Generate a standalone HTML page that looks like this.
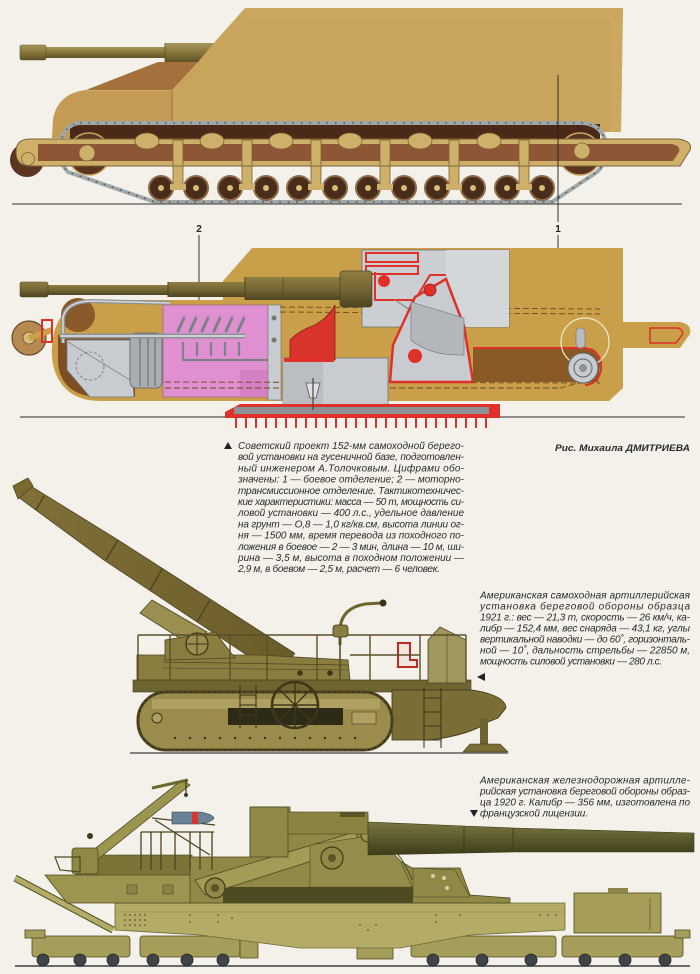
<!DOCTYPE html>
<html><head><meta charset="utf-8">
<style>
html,body{margin:0;padding:0;background:#f3f1e9;}
#c{position:relative;width:700px;height:974px;overflow:hidden;background:#f3f1e9;}
svg{position:absolute;left:0;top:0;}
</style>
</head>
<body>
<div id="c">
<svg width="700" height="974" viewBox="0 0 700 974" xmlns="http://www.w3.org/2000/svg">
<defs>
<linearGradient id="gb" x1="0" y1="0" x2="0" y2="1">
<stop offset="0" stop-color="#a8975a"/><stop offset="0.45" stop-color="#8a7a3e"/><stop offset="1" stop-color="#5e5226"/>
</linearGradient>
<linearGradient id="gb2" x1="0" y1="0" x2="0" y2="1">
<stop offset="0" stop-color="#8e7e40"/><stop offset="0.5" stop-color="#756636"/><stop offset="1" stop-color="#4e4520"/>
</linearGradient>
<linearGradient id="rb" x1="0" y1="0" x2="0" y2="1">
<stop offset="0" stop-color="#7a7640"/><stop offset="0.5" stop-color="#5c5a2c"/><stop offset="1" stop-color="#3e3c1c"/>
</linearGradient>
<linearGradient id="pb" x1="0" y1="0" x2="1" y2="0">
<stop offset="0" stop-color="#807038"/><stop offset="1" stop-color="#6a5c2a"/>
</linearGradient>
</defs>

<!-- ================= TANK 1 ================= -->
<g>
<polygon points="245,8 623,8 621,132 172,132 172,90" fill="#c9a45c"/>
<polygon points="245,8 623,8 621,132 610,132 610,20 250,20" fill="#cfaa62" opacity="0.5"/>
<path d="M172,90 L86,90 C66,92 55,104 53,120 L52,138 L172,138 Z" fill="#c49b55"/>
<line x1="172" y1="90" x2="172" y2="132" stroke="#8a6a38" stroke-width="0.8"/>
<line x1="86" y1="90" x2="172" y2="90" stroke="#e0c890" stroke-width="0.8"/>
<polygon points="86,90 158,62 198,62 172,90" fill="#a4713c"/>
<rect x="45" y="47" width="122" height="11" fill="url(#gb)"/>
<rect x="20" y="45" width="26" height="15" rx="2" fill="url(#gb)" stroke="#5e5226" stroke-width="0.6"/>
<polygon points="165,43 214,43 198,62 165,62" fill="url(#gb)"/>
<line x1="165" y1="43" x2="165" y2="62" stroke="#5e5226" stroke-width="0.8"/>
<rect x="70" y="124" width="530" height="16" fill="#4a2918"/>
<circle cx="89" cy="154" r="21" fill="#5a3620" stroke="#c9a45c" stroke-width="1.5"/>
<circle cx="580" cy="154" r="21" fill="#5a3620" stroke="#c9a45c" stroke-width="1.5"/>
<path d="M80,123 L583,123 Q606,125 606,150 Q605,165 597,172 L552,202 L155,202 L68,172 Q58,162 60,145 Q64,124 80,123 Z" fill="none" stroke="#9ea8aa" stroke-width="4"/>
<path d="M80,123 L583,123 Q606,125 606,150 Q605,165 597,172 L552,202 L155,202 L68,172 Q58,162 60,145 Q64,124 80,123 Z" fill="none" stroke="#5a4a3a" stroke-width="1.4" stroke-dasharray="1.5 7"/>
<circle cx="27" cy="160" r="17" fill="#5b3520"/>
<g fill="#cdb06a" stroke="#7e6232" stroke-width="0.8">
<rect x="173" y="140" width="10" height="46"/><rect x="242" y="140" width="10" height="46"/>
<rect x="311" y="140" width="10" height="46"/><rect x="380" y="140" width="10" height="46"/>
<rect x="449" y="140" width="10" height="46"/><rect x="519" y="140" width="10" height="46"/>
</g>
<path d="M30,139 L678,139 Q693,141 690,150 L680,166 L30,166 Q16,166 16,152 Q16,139 30,139 Z" fill="#cfb06a" stroke="#7e6232" stroke-width="1"/>
<path d="M38,144 L672,144 Q681,146 679,152 L673,161 L38,161 Z" fill="#8d5634"/>
<g fill="#cfb06a" stroke="#7e6232" stroke-width="0.8">
<rect x="173" y="140" width="10" height="26"/><rect x="242" y="140" width="10" height="26"/>
<rect x="311" y="140" width="10" height="26"/><rect x="380" y="140" width="10" height="26"/>
<rect x="449" y="140" width="10" height="26"/><rect x="519" y="140" width="10" height="26"/>
<ellipse cx="147" cy="141" rx="12" ry="8"/><ellipse cx="212" cy="141" rx="12" ry="8"/>
<ellipse cx="281" cy="141" rx="12" ry="8"/><ellipse cx="350" cy="141" rx="12" ry="8"/>
<ellipse cx="420" cy="141" rx="12" ry="8"/><ellipse cx="489" cy="141" rx="12" ry="8"/>
<circle cx="87" cy="153" r="8"/><circle cx="582" cy="151" r="8"/>
<circle cx="28" cy="159" r="6.5"/>
</g>
<g>
<g fill="#4a2c1a" stroke="#8a6a48" stroke-width="2">
<circle cx="161" cy="188" r="12"/><circle cx="196" cy="188" r="12"/>
<circle cx="230" cy="188" r="12"/><circle cx="266" cy="188" r="12"/>
<circle cx="299" cy="188" r="12"/><circle cx="335" cy="188" r="12"/>
<circle cx="368" cy="188" r="12"/><circle cx="404" cy="188" r="12"/>
<circle cx="437" cy="188" r="12"/><circle cx="473" cy="188" r="12"/>
<circle cx="507" cy="188" r="12"/><circle cx="542" cy="188" r="12"/>
</g>
<g fill="#d8bc78">
<circle cx="161" cy="188" r="3"/><circle cx="196" cy="188" r="3"/>
<circle cx="230" cy="188" r="3"/><circle cx="266" cy="188" r="3"/>
<circle cx="299" cy="188" r="3"/><circle cx="335" cy="188" r="3"/>
<circle cx="368" cy="188" r="3"/><circle cx="404" cy="188" r="3"/>
<circle cx="437" cy="188" r="3"/><circle cx="473" cy="188" r="3"/>
<circle cx="507" cy="188" r="3"/><circle cx="542" cy="188" r="3"/>
</g>
<g fill="#cdb06a"><rect x="170" y="184" width="16" height="6"/><rect x="239" y="184" width="16" height="6"/><rect x="308" y="184" width="16" height="6"/><rect x="377" y="184" width="16" height="6"/><rect x="446" y="184" width="16" height="6"/><rect x="516" y="184" width="16" height="6"/></g>
</g>
<line x1="12" y1="204" x2="682" y2="204" stroke="#5a5a5a" stroke-width="1.3"/>
</g>

<line x1="558" y1="75" x2="558" y2="222" stroke="#222" stroke-width="0.9"/>
<line x1="558" y1="235" x2="558" y2="292" stroke="#222" stroke-width="0.9"/>
<line x1="199" y1="235" x2="199" y2="322" stroke="#222" stroke-width="0.9"/>
<text x="558" y="232" font-family="Liberation Sans, sans-serif" font-weight="bold" font-size="10" text-anchor="middle" fill="#222">1</text>
<text x="199" y="232" font-family="Liberation Sans, sans-serif" font-weight="bold" font-size="10" text-anchor="middle" fill="#222">2</text>

<!-- ================= TANK 2 (cutaway) ================= -->
<g>
<path d="M252,248 L623,248 L623,388 L609,401 L100,401 C62,401 50,372 52,346 C54,320 66,302 92,300 L223,300 L223,281 Z" fill="#c9a049"/>
<path d="M622,322 L680,322 Q692,324 690,334 L680,348 L622,348 Z" fill="#c9a049"/>
<path d="M650,328 L678,328 Q684,330 682,335 L676,343 L650,343 Z" fill="none" stroke="#e0302a" stroke-width="1.5"/>
<path d="M58,335 L135,335 L135,397 L100,397 C70,397 58,380 58,360 Z" fill="#7d4f22"/>
<circle cx="78" cy="315" r="17" fill="#8a5a2a"/>
<polygon points="67,340 130,340 134,397 90,397 67,370" fill="#c8cbcf" stroke="#6f7478" stroke-width="0.8"/>
<ellipse cx="90" cy="366" rx="14" ry="14" fill="none" stroke="#6f7478" stroke-width="0.8" stroke-dasharray="3 2"/>
<line x1="68" y1="342" x2="130" y2="380" stroke="#6f7478" stroke-width="0.7"/>
<rect x="130" y="333" width="32" height="55" rx="6" fill="#a8adb2" stroke="#5e6266" stroke-width="0.8"/>
<g stroke="#5e6266" stroke-width="1"><line x1="140" y1="335" x2="140" y2="386"/><line x1="148" y1="335" x2="148" y2="386"/><line x1="155" y1="335" x2="155" y2="386"/></g>
<rect x="163" y="305" width="105" height="92" fill="#e090d0"/>
<rect x="163" y="305" width="105" height="92" fill="none" stroke="#8a5a80" stroke-width="0.6"/>
<rect x="240" y="370" width="28" height="27" fill="#d680c4"/>
<rect x="268" y="305" width="13" height="95" fill="#c8cbcf" stroke="#6f7478" stroke-width="0.6"/>
<circle cx="274" cy="318" r="2.5" fill="#777"/><circle cx="274" cy="340" r="2.5" fill="#777"/>
<path d="M63,343 L63,318 Q66,302 90,301 L170,303" fill="none" stroke="#8d9296" stroke-width="4"/>
<path d="M63,343 L63,318 Q66,302 90,301 L170,303" fill="none" stroke="#d6d9dc" stroke-width="1.5"/>
<path d="M60,336 L245,336" stroke="#8d9296" stroke-width="5"/>
<path d="M60,336 L245,336" stroke="#d6d9dc" stroke-width="1.8"/>
<g stroke="#7d8286" stroke-width="3" stroke-linecap="round">
<line x1="178" y1="331" x2="184" y2="318"/><line x1="190" y1="331" x2="196" y2="318"/>
<line x1="202" y1="331" x2="208" y2="318"/><line x1="214" y1="331" x2="220" y2="318"/>
<line x1="226" y1="331" x2="232" y2="318"/><line x1="238" y1="331" x2="244" y2="318"/>
</g>
<g stroke="#7d8286" stroke-width="2.2"><line x1="183" y1="342" x2="183" y2="356"/><line x1="197" y1="342" x2="197" y2="356"/><line x1="211" y1="342" x2="211" y2="356"/><line x1="225" y1="342" x2="225" y2="356"/><line x1="239" y1="342" x2="239" y2="356"/></g>
<path d="M183,356 L183,360 L268,360" fill="none" stroke="#7d8286" stroke-width="2.2"/>
<g stroke="#6e4a1a" stroke-width="0.9" stroke-dasharray="6 3" fill="none">
<line x1="280" y1="307" x2="600" y2="309"/><line x1="280" y1="312" x2="600" y2="314"/>
<line x1="165" y1="382" x2="600" y2="383"/><line x1="165" y1="388" x2="560" y2="388"/>
<path d="M560,388 L590,380 L598,360"/>
</g>
<rect x="283" y="358" width="105" height="48" fill="#c8cbcf" stroke="#6f7478" stroke-width="0.8"/>
<rect x="283" y="358" width="40" height="48" fill="#babec2"/>
<path d="M290,360 L290,340 Q300,330 315,325 Q328,318 335,305 L335,360 Z" fill="#d8342c" stroke="#8a1a14" stroke-width="0.8"/>
<rect x="284" y="358" width="50" height="4" fill="#e0302a"/>
<rect x="362" y="250" width="147" height="77" fill="#cbced2" stroke="#6f7478" stroke-width="0.8"/>
<rect x="446" y="250" width="63" height="77" fill="#d4d7da"/>
<g fill="none" stroke="#e0302a" stroke-width="2">
<rect x="366" y="253" width="52" height="9"/>
<rect x="366" y="266" width="52" height="8"/>
<path d="M375,272 L375,300 L415,300 L430,275 L446,275"/>
</g>
<circle cx="384" cy="281" r="6" fill="#e0302a"/>
<line x1="395" y1="300" x2="425" y2="320" stroke="#888" stroke-width="1.2"/>
<polygon points="393,345 415,297 446,279 464,326 473,382 390,382" fill="#c8cbcf" stroke="#e0302a" stroke-width="2.5"/>
<path d="M411,302 L464,318 L464,355 Q430,356 411,340 Z" fill="#b3b7bb" stroke="#6f7478" stroke-width="0.6"/>
<circle cx="415" cy="356" r="7" fill="#e0302a"/>
<circle cx="430" cy="290" r="6" fill="#e0302a" stroke="#8a1a14" stroke-width="0.8"/>
<path d="M473,348 L590,348 Q600,350 600,365 L598,382 L473,382 Z" fill="#8a5a26"/>
<path d="M473,348 L585,348 Q603,352 601,370 Q598,384 585,385" fill="none" stroke="#e0302a" stroke-width="2"/>
<circle cx="585" cy="342" r="24" fill="none" stroke="#efe8d0" stroke-width="1.2"/>
<rect x="576" y="328" width="9" height="20" rx="4" fill="#b8bcc0" stroke="#6f7478" stroke-width="0.6"/>
<circle cx="583" cy="368" r="15" fill="#c8cbcf" stroke="#5e6266" stroke-width="1"/>
<circle cx="583" cy="368" r="9" fill="none" stroke="#5e6266" stroke-width="1"/>
<circle cx="583" cy="368" r="4" fill="#8d9296"/>
<rect x="47" y="285" width="122" height="10" fill="url(#gb2)"/>
<rect x="20" y="282" width="28" height="15" rx="2" fill="url(#gb2)" stroke="#4e4520" stroke-width="0.6"/>
<rect x="168" y="282" width="78" height="15" fill="url(#gb2)"/>
<rect x="245" y="277" width="96" height="23" fill="url(#gb2)"/>
<rect x="340" y="271" width="32" height="36" rx="3" fill="url(#gb2)" stroke="#4e4520" stroke-width="0.7"/>
<line x1="168" y1="282" x2="168" y2="297" stroke="#4e4520"/><line x1="245" y1="277" x2="245" y2="300" stroke="#4e4520"/>
<line x1="283" y1="277" x2="283" y2="300" stroke="#4e4520" stroke-width="0.6"/>
<circle cx="29" cy="338" r="17" fill="#b48a50" stroke="#6a4a28" stroke-width="1.2"/>
<circle cx="29" cy="338" r="6" fill="#d8bc78" stroke="#6a4a28" stroke-width="0.8"/>
<line x1="29" y1="338" x2="52" y2="330" stroke="#c9a049" stroke-width="6"/>
<rect x="42" y="320" width="10" height="22" fill="none" stroke="#e0302a" stroke-width="2"/>
<line x1="20" y1="417" x2="685" y2="417" stroke="#555" stroke-width="1.2"/>
<path d="M225,412 L240,404 L500,404 L500,418 L225,418 Z" fill="#e0302a"/>
<rect x="234" y="407" width="255" height="7" fill="#8d9296"/>
<g stroke="#e0302a" stroke-width="2">
<line x1="236" y1="418" x2="236" y2="428"/><line x1="246" y1="418" x2="246" y2="428"/><line x1="256" y1="418" x2="256" y2="428"/><line x1="266" y1="418" x2="266" y2="428"/><line x1="276" y1="418" x2="276" y2="428"/><line x1="286" y1="418" x2="286" y2="428"/><line x1="296" y1="418" x2="296" y2="428"/><line x1="306" y1="418" x2="306" y2="428"/><line x1="316" y1="418" x2="316" y2="428"/><line x1="326" y1="418" x2="326" y2="428"/><line x1="336" y1="418" x2="336" y2="428"/><line x1="346" y1="418" x2="346" y2="428"/><line x1="356" y1="418" x2="356" y2="428"/><line x1="366" y1="418" x2="366" y2="428"/><line x1="376" y1="418" x2="376" y2="428"/><line x1="386" y1="418" x2="386" y2="428"/><line x1="396" y1="418" x2="396" y2="428"/><line x1="406" y1="418" x2="406" y2="428"/><line x1="416" y1="418" x2="416" y2="428"/><line x1="426" y1="418" x2="426" y2="428"/><line x1="436" y1="418" x2="436" y2="428"/><line x1="446" y1="418" x2="446" y2="428"/><line x1="456" y1="418" x2="456" y2="428"/><line x1="466" y1="418" x2="466" y2="428"/><line x1="476" y1="418" x2="476" y2="428"/><line x1="486" y1="418" x2="486" y2="428"/>
</g>
<path d="M306,383 L320,383 L316,398 L310,398 Z" fill="#dfe1e3" stroke="#555" stroke-width="0.8"/>
<line x1="313" y1="378" x2="313" y2="410" stroke="#444" stroke-width="1.2"/>
</g>

<!-- ================= DRAWING 3 (1921 SP gun) ================= -->
<g>
<polygon points="26.4,483.3 118,540 294.7,653.3 279.3,676.7 104,560 17.6,496.7" fill="url(#pb)" stroke="#4e4420" stroke-width="0.8"/>
<polygon points="13,486 28,478 33,486 18,499" fill="#7a6a30" stroke="#4e4420" stroke-width="0.8"/>
<g stroke="#4e4420" stroke-width="1.4"><line x1="44" y1="496" x2="36" y2="510"/><line x1="118" y1="540" x2="106" y2="560"/><line x1="162" y1="569" x2="150" y2="590"/><line x1="210" y1="600" x2="197" y2="622"/></g>
<polygon points="140,613 152,600 207,632 192,646" fill="#9a8e50" stroke="#4e4420" stroke-width="0.8"/>
<polygon points="137,655 260,655 348,660 350,680 137,683" fill="#8a7d40" stroke="#4e4420" stroke-width="0.8"/>
<polygon points="165,640 215,632 235,658 165,660" fill="#8a7d40" stroke="#4e4420" stroke-width="0.8"/>
<circle cx="197" cy="644" r="11" fill="#9a8e50" stroke="#3e3618" stroke-width="1.2"/>
<line x1="186" y1="644" x2="208" y2="644" stroke="#3e3618"/><line x1="197" y1="633" x2="197" y2="655" stroke="#3e3618"/>
<g fill="#3e3618"><circle cx="300" cy="673" r="2.8"/><circle cx="330" cy="673" r="2.8"/></g>
<line x1="163" y1="662" x2="348" y2="665" stroke="#4e4420" stroke-width="0.8"/>
<line x1="163" y1="668" x2="348" y2="670" stroke="#4e4420" stroke-width="0.6"/>
<rect x="133" y="680" width="338" height="12" fill="#6e6430" stroke="#3e3618" stroke-width="0.6"/>
<path d="M392,690 L472,690 Q505,695 506,708 L498,718 L488,722 Q470,735 430,740 L392,740 Z" fill="#7a6e36" stroke="#3e3618" stroke-width="0.8"/>
<rect x="480" y="718" width="8" height="27" fill="#6e6430"/>
<polygon points="463,752 508,752 500,744 470,744" fill="#7a6e36" stroke="#3e3618" stroke-width="0.6"/>
<rect x="138" y="692" width="254" height="58" rx="28" fill="#9a8c4c" stroke="#4e4420" stroke-width="3"/>
<rect x="138" y="692" width="254" height="58" rx="28" fill="none" stroke="#2e2a18" stroke-width="1" stroke-dasharray="2 4"/>
<rect x="152" y="699" width="228" height="10" fill="#ada060"/>
<rect x="228" y="708" width="115" height="17" fill="#2e2a18"/>
<rect x="352" y="712" width="24" height="12" fill="#ada060" stroke="#4e4420" stroke-width="0.6"/>
<circle cx="157" cy="718" r="5" fill="#ada060" stroke="#3e3618" stroke-width="1"/>
<g fill="#3e3618"><circle cx="175" cy="738" r="1.2"/><circle cx="190" cy="738" r="1.2"/><circle cx="205" cy="738" r="1.2"/><circle cx="220" cy="738" r="1.2"/><circle cx="235" cy="738" r="1.2"/><circle cx="250" cy="738" r="1.2"/><circle cx="265" cy="738" r="1.2"/><circle cx="280" cy="738" r="1.2"/><circle cx="295" cy="738" r="1.2"/><circle cx="310" cy="738" r="1.2"/><circle cx="325" cy="738" r="1.2"/><circle cx="340" cy="738" r="1.2"/><circle cx="355" cy="738" r="1.2"/></g>
<circle cx="295" cy="705" r="23" fill="none" stroke="#3e3618" stroke-width="2.5"/>
<g stroke="#3e3618" stroke-width="1.4"><line x1="272" y1="705" x2="318" y2="705"/><line x1="295" y1="682" x2="295" y2="728"/><line x1="279" y1="689" x2="311" y2="721"/><line x1="311" y1="689" x2="279" y2="721"/></g>
<g stroke="#3e3618" stroke-width="1.1" fill="none">
<line x1="240" y1="685" x2="240" y2="728"/><line x1="256" y1="685" x2="256" y2="728"/>
<line x1="240" y1="695" x2="256" y2="695"/><line x1="240" y1="705" x2="256" y2="705"/><line x1="240" y1="715" x2="256" y2="715"/>
<line x1="424" y1="688" x2="424" y2="748"/><line x1="441" y1="688" x2="441" y2="748"/>
<line x1="424" y1="698" x2="441" y2="698"/><line x1="424" y1="712" x2="441" y2="712"/><line x1="424" y1="726" x2="441" y2="726"/><line x1="424" y1="740" x2="441" y2="740"/>
</g>
<polygon points="428,640 440,627 466,640 466,683 428,683" fill="#a09660" stroke="#4e4420" stroke-width="0.8"/>
<line x1="447" y1="633" x2="447" y2="683" stroke="#4e4420" stroke-width="0.6"/>
<path d="M398,643 L410,643 L410,660 L417,660 L417,667 L398,667 Z" fill="#f0e8e0" stroke="#c02a22" stroke-width="2"/>
<g stroke="#5a5028" stroke-width="1.4" fill="none">
<line x1="138" y1="635" x2="466" y2="635"/>
<line x1="138" y1="635" x2="138" y2="680"/><line x1="170" y1="635" x2="170" y2="680"/><line x1="230" y1="635" x2="230" y2="680"/><line x1="267" y1="635" x2="267" y2="680"/><line x1="317" y1="635" x2="317" y2="680"/><line x1="370" y1="635" x2="370" y2="680"/><line x1="420" y1="635" x2="420" y2="680"/><line x1="466" y1="635" x2="466" y2="680"/>
<line x1="350" y1="655" x2="420" y2="655"/>
</g>
<path d="M340,645 L340,628 Q342,608 365,604 L381,603" fill="none" stroke="#6e6430" stroke-width="3"/>
<circle cx="383" cy="603" r="3.5" fill="#3e3618"/>
<rect x="333" y="625" width="15" height="12" rx="3" fill="#8a7d40" stroke="#3e3618" stroke-width="0.8"/>
<line x1="340" y1="637" x2="340" y2="680" stroke="#5a5028" stroke-width="1.6"/>
<line x1="130" y1="753" x2="508" y2="753" stroke="#444" stroke-width="1.3"/>
</g>

<!-- ================= DRAWING 4 (railway gun) ================= -->
<g>
<line x1="15" y1="966" x2="690" y2="966" stroke="#6a6a6a" stroke-width="2"/>
<g fill="#a59e5a" stroke="#4e4a22" stroke-width="0.8">
<rect x="32" y="936" width="98" height="21" rx="3"/>
<rect x="140" y="936" width="100" height="21" rx="3"/>
<rect x="240" y="940" width="18" height="18"/>
<rect x="357" y="943" width="36" height="16"/>
<rect x="411" y="936" width="145" height="21" rx="3"/>
<rect x="562" y="936" width="121" height="21" rx="3"/>
<rect x="25" y="930" width="20" height="8"/>
<rect x="675" y="930" width="15" height="8"/>
</g>
<g fill="#3e4448" stroke="#1e2224" stroke-width="0.8">
<circle cx="43" cy="960" r="6"/><circle cx="80" cy="960" r="6"/><circle cx="113" cy="960" r="6"/>
<circle cx="153" cy="960" r="6"/><circle cx="187" cy="960" r="6"/><circle cx="223" cy="960" r="6"/>
<circle cx="433" cy="960" r="6"/><circle cx="482" cy="960" r="6"/><circle cx="531" cy="960" r="6"/>
<circle cx="585" cy="960" r="6"/><circle cx="625" cy="960" r="6"/><circle cx="665" cy="960" r="6"/>
</g>
<polygon points="115,903 565,903 565,930 470,935 400,948 300,948 200,935 115,930" fill="#b4ac66" stroke="#6e6830" stroke-width="0.8"/>
<line x1="115" y1="912" x2="565" y2="912" stroke="#8a8448" stroke-width="0.6"/>
<g fill="#5e5a2c">
<circle cx="125" cy="915" r="0.9"/><circle cx="130" cy="915" r="0.9"/><circle cx="135" cy="915" r="0.9"/><circle cx="140" cy="915" r="0.9"/><circle cx="145" cy="915" r="0.9"/><circle cx="125" cy="920" r="0.9"/><circle cx="130" cy="920" r="0.9"/><circle cx="135" cy="920" r="0.9"/><circle cx="140" cy="920" r="0.9"/><circle cx="145" cy="920" r="0.9"/><circle cx="125" cy="925" r="0.9"/><circle cx="130" cy="925" r="0.9"/><circle cx="135" cy="925" r="0.9"/><circle cx="140" cy="925" r="0.9"/><circle cx="145" cy="925" r="0.9"/>
<circle cx="190" cy="915" r="0.9"/><circle cx="190" cy="922" r="0.9"/><circle cx="218" cy="915" r="0.9"/><circle cx="218" cy="922" r="0.9"/><circle cx="232" cy="918" r="0.9"/><circle cx="360" cy="925" r="0.9"/><circle cx="368" cy="930" r="0.9"/><circle cx="376" cy="925" r="0.9"/><circle cx="436" cy="915" r="0.9"/><circle cx="436" cy="922" r="0.9"/><circle cx="460" cy="915" r="0.9"/><circle cx="540" cy="915" r="0.9"/><circle cx="548" cy="915" r="0.9"/><circle cx="556" cy="915" r="0.9"/>
</g>
<rect x="574" y="893" width="87" height="40" fill="#a59d58" stroke="#4e4a22" stroke-width="0.8"/>
<rect x="608" y="888" width="20" height="6" fill="#8a8448"/>
<line x1="650" y1="898" x2="650" y2="930" stroke="#4e4a22" stroke-width="0.6"/>
<line x1="15" y1="878" x2="113" y2="930" stroke="#4e4a22" stroke-width="7"/>
<line x1="15" y1="878" x2="113" y2="930" stroke="#b4ac66" stroke-width="5"/>
<rect x="77" y="855" width="115" height="21" fill="#7a7438" stroke="#4e4a22" stroke-width="0.6"/>
<polygon points="45,875 193,875 193,903 67,903" fill="#9c9550" stroke="#4e4a22" stroke-width="0.8"/>
<rect x="127" y="885" width="10" height="9" fill="#8a8448" stroke="#4e4a22" stroke-width="0.6"/>
<rect x="163" y="885" width="10" height="9" fill="#8a8448" stroke="#4e4a22" stroke-width="0.6"/>
<polygon points="190,903 190,857 250,857 250,807 290,807 290,812 368,815 368,855 395,858 412,868 460,868 470,895 510,898 510,903" fill="#8f8846" stroke="#4e4a22" stroke-width="0.8"/>
<polygon points="223,887 413,887 413,903 223,903" fill="#4e4a22"/>
<polygon points="195,880 355,832 362,845 205,895" fill="#a39c56" stroke="#4e4a22" stroke-width="0.8"/>
<polygon points="310,845 375,835 400,860 412,887 310,887" fill="#938c4a" stroke="#4e4a22" stroke-width="0.6"/>
<circle cx="215" cy="888" r="10" fill="#8f8846" stroke="#3e3a1a" stroke-width="1.2"/>
<circle cx="215" cy="888" r="4" fill="#5a5428"/>
<circle cx="332" cy="858" r="11" fill="#8f8846" stroke="#3e3a1a" stroke-width="1.2"/>
<circle cx="332" cy="858" r="4" fill="#5a5428"/>
<circle cx="368" cy="835" r="7" fill="#9a9350" stroke="#3e3a1a" stroke-width="1"/>
<path d="M378,840 Q400,848 412,880" fill="none" stroke="#4e4a22" stroke-width="1"/>
<polygon points="413,868 455,870 470,897 413,897" fill="#8f8846" stroke="#4e4a22" stroke-width="0.6"/>
<g fill="#d8d2a8"><circle cx="433" cy="876" r="2"/><circle cx="444" cy="878" r="2"/><circle cx="447" cy="888" r="2"/></g>
<rect x="250" y="807" width="38" height="50" fill="#8f8846" stroke="#4e4a22" stroke-width="0.8"/>
<rect x="288" y="812" width="80" height="22" fill="#8a8342" stroke="#4e4a22" stroke-width="0.6"/>
<rect x="340" y="812" width="25" height="5" fill="#5a5428"/>
<polygon points="368,822 464,826 513,828 694,833 694,852 513,852 368,855" fill="url(#rb)" stroke="#3a3818" stroke-width="0.6"/>
<line x1="464" y1="826" x2="464" y2="852" stroke="#3a3818" stroke-width="0.8"/>
<line x1="513" y1="828" x2="513" y2="852" stroke="#3a3818" stroke-width="0.8"/>
<g stroke="#4e4420" stroke-width="1.3" fill="none">
<line x1="141" y1="832" x2="214" y2="832"/>
<line x1="141" y1="832" x2="141" y2="870"/><line x1="151" y1="832" x2="151" y2="870"/><line x1="161" y1="832" x2="161" y2="870"/><line x1="175" y1="832" x2="175" y2="870"/><line x1="190" y1="832" x2="190" y2="870"/><line x1="200" y1="832" x2="200" y2="870"/><line x1="212" y1="832" x2="212" y2="870"/>
<line x1="155" y1="820" x2="210" y2="855"/>
<line x1="152" y1="818" x2="215" y2="825"/>
</g>
<path d="M172,812 L200,812 Q212,814 214,818 Q212,822 200,824 L172,824 Z" fill="#6a8296" stroke="#2e3a44" stroke-width="0.6"/>
<rect x="192" y="812" width="6" height="12" fill="#d8342c"/>
<polygon points="78,862 92,864 190,785 182,780" fill="#9c9550" stroke="#4e4a22" stroke-width="0.8"/>
<line x1="152" y1="788" x2="188" y2="780" stroke="#6e6830" stroke-width="3"/>
<line x1="186" y1="780" x2="186" y2="795" stroke="#3e3a1a" stroke-width="1.2"/>
<circle cx="186" cy="795" r="2" fill="#3e3a1a"/>
<rect x="72" y="848" width="26" height="26" rx="3" fill="#8f8846" stroke="#4e4a22" stroke-width="0.8"/>
<circle cx="90" cy="836" r="3" fill="#3e3a1a"/>
<path d="M55,857 L80,857 L80,872 L60,870 Z" fill="none" stroke="#4e4a22" stroke-width="1.2"/>
</g>

<!-- ================= TEXT ================= -->
<g font-family="Liberation Sans, sans-serif" font-style="italic" font-size="10" fill="#2a2a2a">
<polygon points="224,449 232,449 228,442" fill="#222"/>
<text x="238" y="449" textLength="226" lengthAdjust="spacing">Советский проект 152-мм самоходной берего-</text>
<text x="238" y="460.2" textLength="226" lengthAdjust="spacing">вой установки на гусеничной базе, подготовлен-</text>
<text x="238" y="471.4" textLength="226" lengthAdjust="spacing">ный инженером А.Толочковым. Цифрами обо-</text>
<text x="238" y="482.6" textLength="226" lengthAdjust="spacing">значены: 1 — боевое отделение; 2 — моторно-</text>
<text x="238" y="493.8" textLength="226" lengthAdjust="spacing">трансмиссионное отделение. Тактикотехничес-</text>
<text x="238" y="505" textLength="226" lengthAdjust="spacing">кие характеристики: масса — 50 т, мощность си-</text>
<text x="238" y="516.2" textLength="226" lengthAdjust="spacing">ловой установки — 400 л.с., удельное давление</text>
<text x="238" y="527.4" textLength="226" lengthAdjust="spacing">на грунт — О,8 — 1,0 кг/кв.см, высота линии ог-</text>
<text x="238" y="538.6" textLength="226" lengthAdjust="spacing">ня — 1500 мм, время перевода из походного по-</text>
<text x="238" y="549.8" textLength="226" lengthAdjust="spacing">ложения в боевое — 2 — 3 мин, длина — 10 м, ши-</text>
<text x="238" y="561" textLength="226" lengthAdjust="spacing">рина — 3,5 м, высота в походном положении —</text>
<text x="238" y="572.2" textLength="202" lengthAdjust="spacing">2,9 м, в боевом — 2,5 м, расчет — 6 человек.</text>

<text x="555" y="451" font-weight="bold" font-size="9.5" textLength="135" lengthAdjust="spacingAndGlyphs">Рис. Михаила ДМИТРИЕВА</text>

<text x="480" y="598.5" textLength="210" lengthAdjust="spacing">Американская самоходная артиллерийская</text>
<text x="480" y="609.5" textLength="210" lengthAdjust="spacing">установка береговой обороны образца</text>
<text x="480" y="620.5" textLength="210" lengthAdjust="spacing">1921 г.: вес — 21,3 т, скорость — 26 км/ч, ка-</text>
<text x="480" y="631.5" textLength="210" lengthAdjust="spacing">либр — 152,4 мм, вес снаряда — 43,1 кг, углы</text>
<text x="480" y="642.5" textLength="210" lengthAdjust="spacing">вертикальной наводки — до 60˚, горизонталь-</text>
<text x="480" y="653.5" textLength="210" lengthAdjust="spacing">ной — 10˚, дальность стрельбы — 22850 м,</text>
<text x="480" y="664.5" textLength="182" lengthAdjust="spacing">мощность силовой установки — 280 л.с.</text>
<polygon points="477,677 485,673 485,681" fill="#222"/>

<text x="480" y="783.5" textLength="210" lengthAdjust="spacing">Американская железнодорожная артилле-</text>
<text x="480" y="794.5" textLength="210" lengthAdjust="spacing">рийская установка береговой обороны образ-</text>
<text x="480" y="805.5" textLength="210" lengthAdjust="spacing">ца 1920 г. Калибр — 356 мм, изготовлена по</text>
<text x="480" y="816.5" textLength="108" lengthAdjust="spacing">французской лицензии.</text>
<polygon points="470,810 478,810 474,817" fill="#222"/>
</g>
</svg>
</div>
</body>
</html>
